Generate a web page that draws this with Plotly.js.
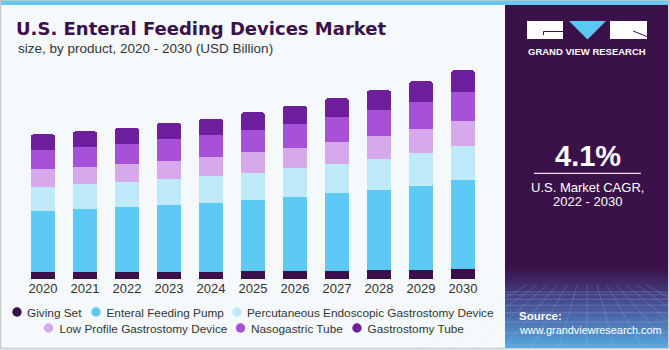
<!DOCTYPE html>
<html>
<head>
<meta charset="utf-8">
<script src="https://cdn.plot.ly/plotly-3.0.1.min.js"></script>
<style>html,body{margin:0;padding:0;background:#f5f9fc;}#chart{width:670px;height:350px;}</style>
</head>
<body>
<div id="chart"></div>
<script>
// ---- data (USD Billion) ----
const years = ['2020','2021','2022','2023','2024','2025','2026','2027','2028','2029','2030'];
const givingSet   = [0.055,0.055,0.055,0.058,0.058,0.064,0.066,0.069,0.072,0.077,0.080];
const feedingPump = [0.508,0.528,0.539,0.556,0.572,0.591,0.614,0.641,0.669,0.697,0.741];
const pegDevice   = [0.202,0.202,0.207,0.216,0.221,0.227,0.238,0.246,0.257,0.274,0.285];
const lowProfile  = [0.147,0.147,0.152,0.152,0.160,0.169,0.169,0.182,0.188,0.196,0.207];
const nasogastric = [0.158,0.166,0.169,0.177,0.180,0.185,0.199,0.202,0.213,0.224,0.235];
const gastrostomy = [0.130,0.127,0.130,0.135,0.138,0.146,0.149,0.158,0.166,0.171,0.182];
const seriesNames = ['Giving Set','Enteral Feeding Pump','Percutaneous Endoscopic Gastrostomy Device',
                     'Low Profile Gastrostomy Device','Nasogastric Tube','Gastrostomy Tube'];
const labelYears = ['2020','2021'];
const labelTexts = ['$1.20B','$1.22B'];

// ---- styling ----
const FONT = 'Liberation Sans, Arial, sans-serif';
const colors = ['#3b0f4b','#5dcaf6','#bfeaf9','#d6a9ec','#a651d8','#6e1f9d'];
const W = 670, H = 350, PT = 60, PB = 279;
const X = px => px / W;
const Y = py => (PB - py) / (PB - PT);

const seriesData = [givingSet, feedingPump, pegDevice, lowProfile, nasogastric, gastrostomy];
const legendIds = ['legend','legend2','legend3','legend4','legend5','legend6'];

const traces = [];
seriesData.forEach((vals, i) => {
  traces.push({
    type: 'bar', x: years, y: vals, name: seriesNames[i],
    marker: {color: colors[i], line: {width: 0}},
    showlegend: false, hoverinfo: 'x+y+name'
  });
});
// legend entries (symbol drawn as a circle shape next to each entry)
seriesData.forEach((vals, i) => {
  traces.push({
    type: 'scatter', mode: 'markers', x: [null], y: [null], name: seriesNames[i],
    marker: {color: 'rgba(0,0,0,0)', size: 1},
    legend: legendIds[i], showlegend: true, hoverinfo: 'skip'
  });
});

const totals = years.map((_, k) => seriesData.reduce((s, arr) => s + arr[k], 0));

// legend placement: [circle centre px, text start px, row y px]
const legendPos = [[17,27,312],[96,106.5,312],[237,247,312],[48.5,59.5,328],[240.5,251,328],[357,367.5,328]];

const layout = {
  width: W, height: H,
  margin: {l: 0, r: 0, t: PT, b: H - PB, autoexpand: false},
  paper_bgcolor: '#f5f9fc', plot_bgcolor: 'rgba(0,0,0,0)',
  barmode: 'stack', bargap: 0.43, barcornerradius: 3,
  font: {family: FONT, color: '#333333'},
  title: {
    text: 'U.S. Enteral Feeding Devices Market',
    xref: 'container', yref: 'container', x: 16 / W, xanchor: 'left',
    y: 1 - 28.5 / H, yanchor: 'middle',
    font: {family: 'DejaVu Sans, Liberation Sans, sans-serif', size: 18, weight: 'bold', color: '#3a1148'}
  },
  xaxis: {
    type: 'category', range: [-43/42, (W - 43)/42],
    showgrid: false, zeroline: false, showline: false, ticks: '',
    tickfont: {family: FONT, size: 13, color: '#333333'}, fixedrange: true
  },
  yaxis: {range: [0, (PB - PT) / 120.6], visible: false, fixedrange: true},
  shapes: [], annotations: [], showlegend: true
};

legendIds.forEach((id, i) => {
  layout[id] = {
    x: X(legendPos[i][1] - 40), xanchor: 'left', xref: 'paper',
    y: 1 - legendPos[i][2] / H, yanchor: 'middle', yref: 'container',
    orientation: 'h', bgcolor: 'rgba(0,0,0,0)', borderwidth: 0,
    font: {family: FONT, size: 11.8, color: '#333333'}
  };
});

// subtitle
layout.annotations.push({
  xref: 'paper', yref: 'paper', x: X(16), y: Y(49), xanchor: 'left', yanchor: 'middle',
  text: 'size, by product, 2020 - 2030 (USD Billion)', showarrow: false,
  font: {family: FONT, size: 13.5, color: '#333333'}
});
// value labels
labelYears.forEach((yr, i) => {
  const k = years.indexOf(yr);
  layout.annotations.push({
    xref: 'x', yref: 'y', x: yr, y: totals[k], xanchor: 'center', yanchor: 'bottom',
    yshift: i === 0 ? 4 : 15, text: labelTexts[i], showarrow: false,
    font: {family: FONT, size: 13, color: '#333333'}
  });
});

// legend circles
legendPos.forEach((p, i) => {
  layout.shapes.push({type:'circle', xref:'paper', yref:'paper', xsizemode:'pixel', ysizemode:'pixel',
    xanchor: X(p[0]), yanchor: Y(p[2]), x0:-4.7, x1:4.7, y0:-4.7, y1:4.7,
    fillcolor: colors[i], line:{width:0}, layer:'above'});
});

// top strip
layout.shapes.push({type:'rect', xref:'paper', yref:'paper', x0:0, x1:1, y0:Y(5), y1:Y(0),
  fillcolor:'#66c9ef', line:{width:0}, layer:'above'});
// right panel
layout.shapes.push({type:'rect', xref:'paper', yref:'paper', x0:X(505), x1:X(668), y0:Y(348), y1:Y(5),
  fillcolor:'#3a1148', line:{width:0}, layer:'above'});
// gradient bands at panel bottom
const stops = [[268,[58,17,72]],[300,[70,72,142]],[348,[86,168,224]]];
function colAt(py){
  for (let s = 0; s < stops.length - 1; s++) {
    const a = stops[s], b = stops[s+1];
    if (py >= a[0] && py <= b[0]) {
      const t = (py - a[0]) / (b[0] - a[0]);
      const c = a[1].map((v, j) => Math.round(v + (b[1][j] - v) * t));
      return 'rgb(' + c.join(',') + ')';
    }
  }
  return 'rgb(58,17,72)';
}
for (let py = 268; py < 348; py += 2) {
  layout.shapes.push({type:'rect', xref:'paper', yref:'paper', x0:X(505), x1:X(668), y0:Y(py+2.2), y1:Y(py),
    fillcolor: colAt(py+1), line:{width:0}, layer:'above'});
}
// faint perspective grid
for (let k = 0; k < 9; k++) {
  const py = 292 + k * k * 0.8 + k * 2;
  if (py > 347) break;
  layout.shapes.push({type:'line', xref:'paper', yref:'paper', x0:X(505), x1:X(668), y0:Y(py), y1:Y(py),
    line:{color:'rgba(200,220,255,0.22)', width:1}, layer:'above'});
}
for (let k = -6; k <= 6; k++) {
  layout.shapes.push({type:'line', xref:'paper', yref:'paper', x0:X(587 + k*10), x1:X(587 + k*28), y0:Y(285), y1:Y(348),
    line:{color:'rgba(200,220,255,0.18)', width:1}, layer:'above'});
}
// logo
layout.shapes.push({type:'rect', xref:'paper', yref:'paper', x0:X(527), x1:X(563), y0:Y(39), y1:Y(21),
  fillcolor:'#ffffff', line:{width:0}, layer:'above'});
layout.shapes.push({type:'rect', xref:'paper', yref:'paper', x0:X(610), x1:X(647), y0:Y(39), y1:Y(21),
  fillcolor:'#ffffff', line:{width:0}, layer:'above'});
layout.shapes.push({type:'path', xref:'paper', yref:'paper',
  path: 'M ' + X(569) + ' ' + Y(21) + ' L ' + X(606) + ' ' + Y(21) + ' L ' + X(587.5) + ' ' + Y(39.5) + ' Z',
  fillcolor:'#5cc8f2', line:{width:0}, layer:'above'});
layout.shapes.push({type:'path', xref:'paper', yref:'paper',
  path: 'M ' + X(543.5) + ' ' + Y(35) + ' L ' + X(543.5) + ' ' + Y(31.5) + ' L ' + X(563) + ' ' + Y(31.5),
  line:{color:'#3a1148', width:1}, layer:'above'});
layout.shapes.push({type:'line', xref:'paper', yref:'paper', x0:X(633), x1:X(647), y0:Y(31), y1:Y(36.5),
  line:{color:'#3a1148', width:1}, layer:'above'});
// separator line under CAGR
layout.shapes.push({type:'line', xref:'paper', yref:'paper', x0:X(534), x1:X(641), y0:Y(173.3), y1:Y(173.3),
  line:{color:'#e6e0ee', width:1.3}, layer:'above'});
// outer border
layout.shapes.push({type:'rect', xref:'paper', yref:'paper', x0:X(0.5), x1:X(669), y0:Y(348.5), y1:Y(0),
  fillcolor:'rgba(0,0,0,0)', line:{color:'#c9c9c9', width:1.5}, layer:'above'});

// panel texts
const panelTexts = [
  ['GRAND VIEW RESEARCH', 587, 51, 9.5, 'bold', 'center'],
  ['4.1%', 587.5, 156, 29, 'bold', 'center'],
  ['U.S. Market CAGR,', 587.5, 187, 13, 'normal', 'center'],
  ['2022 - 2030', 587.5, 201.5, 13, 'normal', 'center'],
  ['Source:', 517, 316, 11.5, 'bold', 'left'],
  ['www.grandviewresearch.com', 517, 330, 10.9, 'normal', 'left']
];
panelTexts.forEach(t => {
  layout.annotations.push({
    xref:'paper', yref:'paper', x: X(t[1]), y: Y(t[2]), xanchor: t[5], yanchor:'middle',
    text: t[0], showarrow:false,
    font:{family: FONT, size: t[3], weight: t[4], color:'#ffffff'}
  });
});

Plotly.newPlot('chart', traces, layout, {displayModeBar: false, staticPlot: true});
</script>
</body>
</html>
